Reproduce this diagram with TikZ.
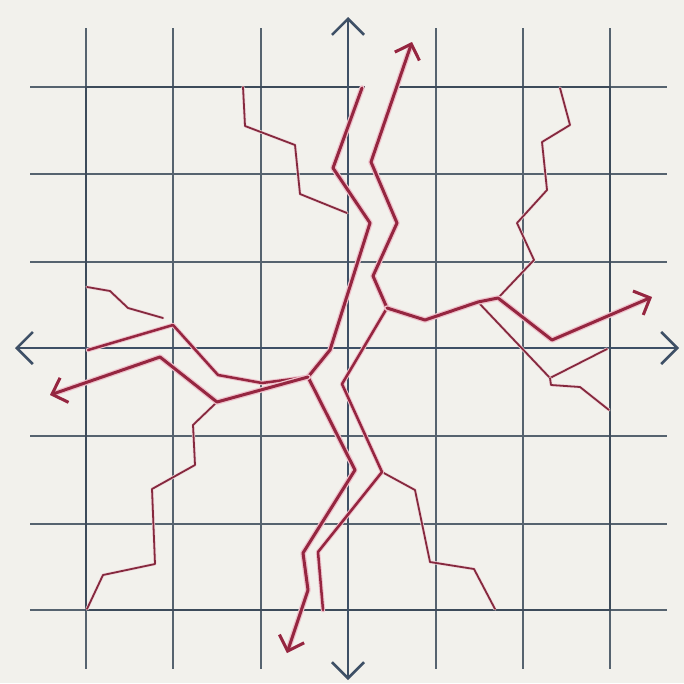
\documentclass[tikz,border=0pt]{standalone}
\usetikzlibrary{arrows.meta}
\definecolor{bgc}{HTML}{F2F1EC}
\definecolor{gridc}{HTML}{56636F}
\definecolor{borderc}{HTML}{3D4B5A}
\definecolor{axisc}{HTML}{3E5066}
\definecolor{crackc}{HTML}{952640}
\definecolor{thinc}{HTML}{85293E}
\definecolor{haloc}{HTML}{EFC2CC}
\tikzset{
  gridline/.style={draw=gridc, line width=1.7pt},
  borderline/.style={draw=borderc, line width=2.8pt, line join=miter},
  axisline/.style={draw=axisc, line width=2.6pt, {Straight Barb[length=16pt,width=32pt,line width=2.6pt]}-{Straight Barb[length=16pt,width=32pt,line width=2.6pt]}},
  crackthick/.style={draw=crackc, line width=3pt, line cap=round, line join=round,
    preaction={draw=haloc, line width=5.5pt, line cap=round, line join=round}},
  crackmid/.style={draw=crackc, line width=2.5pt, line cap=round, line join=round,
    preaction={draw=haloc, line width=4.5pt, line cap=round, line join=round}},
  crackthin/.style={draw=thinc, line width=1.8pt, line cap=round, line join=round,
    preaction={draw=haloc!50!bgc, line width=3.2pt, line cap=round, line join=round}},
  redtip/.style={-{Straight Barb[length=13pt,width=26pt,line width=3pt]}},
}
\begin{document}
\begin{tikzpicture}[x=1pt,y=-1pt]
\fill[bgc] (0,0) rectangle (684,683);
\useasboundingbox (0,0) rectangle (684,683);
% grid lines
\foreach \x in {86,173,261,436,523,610} \draw[gridline] (\x,28) -- (\x,669);
\foreach \y in {174,262,436,524,610} \draw[gridline] (30,\y) -- (667,\y);
\draw[gridline] (30,87) -- (365,87);
\draw[gridline] (398,87) -- (667,87);
% square border
\draw[borderline] (365,87) -- (86,87) -- (86,610) -- (610,610) -- (610,87) -- (398,87);
% axes
\coordinate (axL) at (15,348); \coordinate (axR) at (679,348);
\coordinate (axT) at (348,17); \coordinate (axB) at (348,680);
\draw[axisline] (axL) -- (axR);
\draw[axisline] (axT) -- (axB);
% junctions
\coordinate (J1) at (387,308);
\coordinate (J2) at (308,377);
\coordinate (J3) at (498,298);
\coordinate (J4) at (382,472);
\coordinate (J5) at (217,402);
\coordinate (K1) at (478,302);
\coordinate (K2) at (550,378);
% thin cracks
\draw[crackthin] (243,87) -- (245,126) -- (295,145) -- (300,194) -- (347,213);
\draw[crackthin] (87,287) -- (110,291) -- (128,308) -- (163,318);
\draw[crackthin] (560,88) -- (570,125) -- (542,142) -- (547,190) -- (517,223) -- (534,260) -- (J3);
\draw[crackthin] (K1) -- (K2) -- (607,349);
\draw[crackthin] (K2) -- (551,385) -- (580,387) -- (609,410);
\draw[crackthin] (J4) -- (415,490) -- (430,562) -- (474,569) -- (495,609);
\draw[crackthin] (J5) -- (193,425) -- (195,465) -- (152,489) -- (155,564) -- (103,575) -- (87,609);
% medium cracks
\draw[crackmid] (88,350) -- (173,325) -- (218,375) -- (262,383) -- (J2);
\draw[crackmid] (J1) -- (342,384) -- (J4) -- (318,552) -- (323,610);
% thick cracks
\draw[crackthick, redtip] (J1) -- (373,276) -- (397,223) -- (371,162) -- (412,42);
\draw[crackthick, redtip] (J1) -- (425,320) -- (K1) -- (J3) -- (552,340) -- (652,297);
\draw[crackthick, redtip] (362,88) -- (333,168) -- (370,223) -- (330,350) -- (J2) -- (355,470) -- (303,553) -- (308,590) -- (287,653);
\draw[crackthick, redtip] (J2) -- (J5) -- (160,357) -- (50,395);
\end{tikzpicture}
\end{document}
